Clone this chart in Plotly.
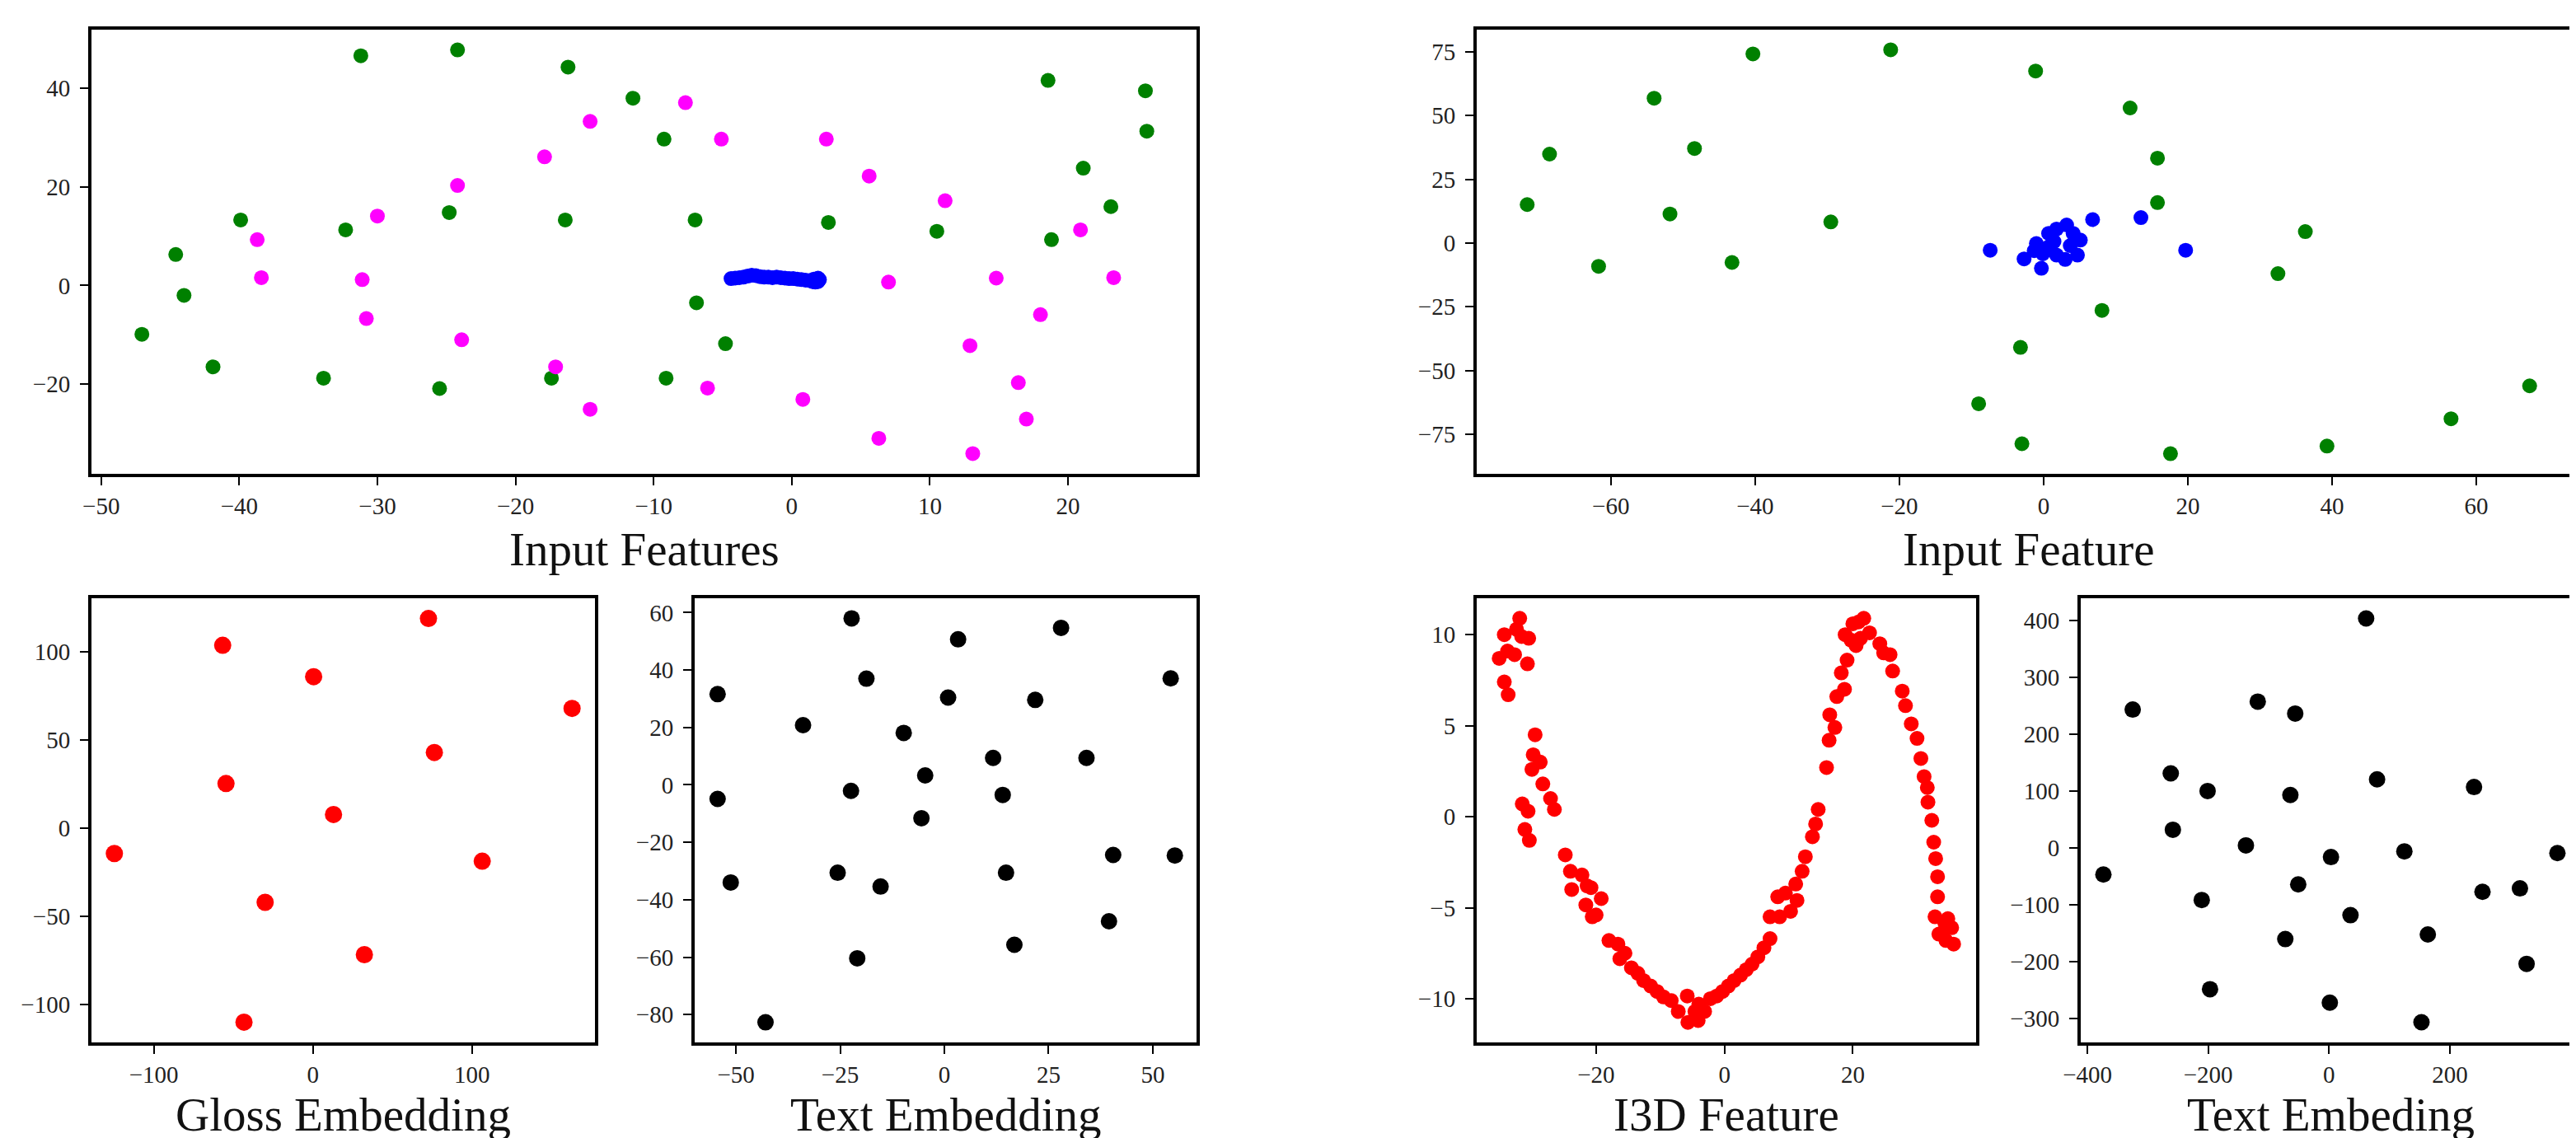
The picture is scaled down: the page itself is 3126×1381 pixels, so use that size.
import plotly.graph_objects as go

W, H = 3126, 1381

# ---------------- data ----------------
# Top-left: Input Features
tl_green_x = [-31.2, -24.2, -16.2, -11.5, -9.25, 18.55, 25.6, 25.7, 21.1, 23.1, 10.5, 18.8, 2.65, -7.0,
              -16.4, -24.8, -32.3, -39.9, -44.6, -44.0, -47.05, -41.9, -33.9, -25.5, -17.4, -9.1, -6.9, -4.8]
tl_green_y = [46.6, 47.8, 44.3, 38.0, 29.7, 41.6, 39.5, 31.3, 23.8, 16.0, 11.0, 9.3, 12.8, 13.3,
              13.3, 14.8, 11.3, 13.3, 6.3, -2.0, -9.9, -16.5, -18.8, -20.9, -18.8, -18.8, -3.5, -11.8]
tl_mag_x = [-7.7, -14.6, -5.1, 2.5, -17.9, 5.6, -24.2, 11.1, -30.0, 20.9, -38.7, -38.4, -31.1, 7.0,
            14.8, 23.3, -30.8, 18.0, -23.9, 12.9, -17.1, 16.4, -6.1, 0.8, -14.6, 16.98, 6.3, 13.1]
tl_mag_y = [37.1, 33.3, 29.7, 29.7, 26.1, 22.2, 20.3, 17.2, 14.1, 11.3, 9.3, 1.6, 1.2, 0.7,
            1.5, 1.6, -6.7, -5.9, -11.0, -12.2, -16.5, -19.7, -20.8, -23.1, -25.1, -27.1, -31.0, -34.1]
tl_blue_x = [-4.4, -4.1, -3.8, -3.5, -3.2, -2.9, -2.6, -2.3, -2.0, -1.7, -1.4, -1.1, -0.8, -0.5, -0.2,
             0.1, 0.4, 0.7, 1.0, 1.3, 1.5, 1.7, 1.9, 2.0, 1.9, 1.6]
tl_blue_y = [1.4, 1.5, 1.6, 1.7, 1.9, 2.1, 2.0, 1.8, 1.7, 1.7, 1.6, 1.7, 1.6, 1.5, 1.4,
             1.4, 1.3, 1.2, 1.1, 1.0, 0.8, 0.7, 0.8, 1.2, 1.5, 1.3]

# Top-right: Input Feature
tr_green_x = [-40.3, -21.2, -1.1, -54.0, 12.0, -68.5, -48.4, 15.8, -71.6, -51.8, -29.5, 15.8, 36.3, -61.7,
              -43.2, 32.5, 8.1, -3.2, -9.0, -3.0, 17.6, 39.3, 56.5, 67.4]
tr_green_y = [74.2, 75.8, 67.5, 56.8, 53.0, 34.9, 37.1, 33.3, 15.1, 11.4, 8.3, 15.9, 4.5, -9.1,
              -7.6, -12.0, -26.4, -40.9, -63.0, -78.7, -82.6, -79.6, -68.9, -56.0]
tr_blue_x = [-7.4, 6.8, 13.5, 19.7, -2.7, -0.3, -1.0, -0.1, 0.7, 1.8, 3.2, 1.45, 1.8, 3.0, 4.7, 5.1, 4.1,
             3.7, 0.7, -1.3]
tr_blue_y = [-2.8, 9.2, 10.0, -2.8, -6.2, -9.9, -0.2, -4.2, 3.8, 5.5, 7.1, 0.6, -4.7, -6.4, -4.7, 1.2, 3.8,
             -1.0, -1.5, -3.0]

# Bottom-left: Gloss Embedding
gloss_x = [-56.7, 72.7, 0.5, 163.0, 76.4, -54.6, 13.0, -124.8, 106.5, -30.0, 32.4, -43.3]
gloss_y = [103.8, 119.0, 86.0, 68.0, 43.0, 25.4, 7.8, -14.3, -18.7, -42.0, -71.7, -110.0]

# Bottom: Text Embedding
text_x = [-22.25, 28.0, 3.3, -18.7, -54.4, 0.9, 21.8, -33.9, -9.75, 11.7, 34.1, -4.6, -22.4, 14.0,
          -54.4, -5.5, 40.5, 55.3, 54.3, -25.6, 14.8, -15.3, -51.25, 39.5, 16.8, -20.9, -42.9]
text_y = [58.0, 54.7, 50.7, 37.0, 31.6, 30.4, 29.6, 20.8, 18.1, 9.4, 9.4, 3.3, -2.1, -3.5,
          -4.9, -11.6, -24.4, -24.6, 37.1, -30.6, -30.6, -35.4, -34.0, -47.5, -55.7, -60.4, -82.7]

# Bottom: I3D Feature
i3d_x = [-35.1, -34.3, -33.8, -34.3, -33.7, -32.7, -32.4, -31.9, -31.6, -30.5, -30.7, -29.5, -29.8, -28.7,
         -30.0, -31.5, -30.6, -31.1, -30.4, -28.3, -27.1, -26.5, -24.8, -24.0, -23.8, -22.2, -21.4, -20.8,
         -21.6, -19.2, -20.6, -20.0, -18.0, -16.6, -16.3, -15.5, -14.5, -13.5, -12.6, -11.5, -10.5, -9.5,
         -8.3, -7.2, -5.8, -5.7, -4.6, -4.1, -4.0, -3.1, -2.2, -1.2, -0.3, 0.6, 1.5, 2.5, 3.4, 4.3, 5.2,
         6.15, 7.1, 7.1, 8.3, 8.6, 9.5, 10.3, 11.3, 11.1, 12.1, 12.6, 13.7, 14.2, 14.6, 15.9, 16.3, 16.4,
         17.2, 17.5, 18.7, 18.2, 19.1, 18.8, 19.7, 20.0, 20.5, 20.9, 21.7, 21.2, 22.6, 24.2, 24.8, 25.8,
         26.2, 27.7, 28.2, 29.1, 30.0, 30.6, 31.1, 31.6, 31.7, 32.3, 32.6, 32.9, 33.2, 33.2, 32.8, 33.4,
         34.3, 34.8, 35.4, 34.5, 35.7, 33.8]
i3d_y = [8.7, 10.0, 9.1, 7.4, 6.7, 8.9, 10.3, 10.9, 9.9, 9.8, 8.4, 4.5, 3.4, 3.0,
         2.6, 0.7, 0.3, -0.7, -1.3, 1.8, 1.0, 0.4, -2.1, -3.0, -4.0, -3.2, -3.8, -3.9,
         -4.85, -4.5, -5.5, -5.4, -6.8, -7.0, -7.8, -7.5, -8.3, -8.6, -9.0, -9.3, -9.6, -9.9,
         -10.1, -10.7, -9.85, -11.3, -10.7, -11.2, -10.3, -10.7, -10.0, -9.85, -9.6, -9.3, -9.0, -8.7, -8.4, -8.1, -7.7,
         -7.2, -6.7, -5.5, -4.4, -5.5, -4.2, -5.2, -4.6, -3.7, -3.0, -2.2, -1.1, -0.4, 0.4, 2.7, 4.2, 5.6,
         4.9, 6.6, 7.0, 7.9, 8.6, 10.0, 9.7, 10.6, 9.4, 10.7, 10.9, 9.8, 10.1, 9.5, 9.0, 8.9,
         8.0, 6.9, 6.1, 5.1, 4.3, 3.2, 2.2, 1.6, 0.8, -0.2, -1.4, -2.3, -3.3, -4.4, -5.5, -6.45,
         -5.8, -5.6, -6.1, -6.8, -7.0, -6.4]

# Bottom-right: Text Embeding
te_x = [61.4, -325, -118, -56, -262, -201, -64, 79.5, 240, -258.5, -137.6, 3.2, 124.7, 378, -373.5, -51,
        254, 316, -210.7, 35.5, -72.4, 163.5, 327, -197, 1.3, 153]
te_y = [403, 243, 257, 236, 131, 100, 93, 120.5, 107, 32, 4.5, -16, -6, -9, -46.7, -64,
        -77, -71, -91.4, -118, -160, -152, -203.5, -248, -271.6, -306]

# axis ticks
tl_xticks = [-50, -40, -30, -20, -10, 0, 10, 20]
tl_yticks = [-20, 0, 20, 40]
tr_xticks = [-60, -40, -20, 0, 20, 40, 60]
tr_yticks = [-75, -50, -25, 0, 25, 50, 75]
gloss_xticks = [-100, 0, 100]
gloss_yticks = [-100, -50, 0, 50, 100]
text_xticks = [-50, -25, 0, 25, 50]
text_yticks = [-80, -60, -40, -20, 0, 20, 40, 60]
i3d_xticks = [-20, 0, 20]
i3d_yticks = [-10, -5, 0, 5, 10]
te_xticks = [-400, -200, 0, 200, 400]
te_yticks = [-300, -200, -100, 0, 100, 200, 300, 400]

labels = ["Input Features", "Input Feature", "Gloss Embedding", "Text Embedding", "I3D Feature", "Text Embeding"]

# ---------------- layout helpers ----------------
FONT = "Liberation Serif, Times New Roman, serif"


def px_x(p):
    return p / W


def px_y(p):
    return 1 - p / H


# panels: (left, right, top, bottom) in pixels
panels = [
    (103, 1444, 28, 567),
    (1784, 3123, 28, 567),
    (103, 714, 718, 1257),
    (835, 1444, 718, 1257),
    (1784, 2390, 718, 1257),
    (2517, 3123, 718, 1257),
]
ranges = [
    ([-50.7, 29.3], [-38.2, 51.9]),
    ([-78.6, 74.4], [-90.5, 83.7]),
    ([-139.2, 177.4], [-121.5, 130.5]),
    ([-59.9, 60.5], [-89.7, 65.0]),
    ([-38.6, 39.2], [-12.4, 12.0]),
    ([-411.0, 415.6], [-341.5, 438.5]),
]
ticks = [
    (tl_xticks, tl_yticks),
    (tr_xticks, tr_yticks),
    (gloss_xticks, gloss_yticks),
    (text_xticks, text_yticks),
    (i3d_xticks, i3d_yticks),
    (te_xticks, te_yticks),
]

fig = go.Figure()

series = [
    (1, tl_green_x, tl_green_y, "#008000", 18),
    (1, tl_mag_x, tl_mag_y, "#FF00FF", 18),
    (1, tl_blue_x, tl_blue_y, "#0000FF", 18),
    (2, tr_green_x, tr_green_y, "#008000", 18),
    (2, tr_blue_x, tr_blue_y, "#0000FF", 18),
    (3, gloss_x, gloss_y, "#FF0000", 21),
    (4, text_x, text_y, "#000000", 20),
    (5, i3d_x, i3d_y, "#FF0000", 18),
    (6, te_x, te_y, "#000000", 20),
]
for idx, xs, ys, col, sz in series:
    sfx = "" if idx == 1 else str(idx)
    fig.add_trace(go.Scatter(
        x=xs, y=ys, mode="markers",
        marker=dict(color=col, size=sz, line=dict(width=0)),
        xaxis="x" + sfx, yaxis="y" + sfx, showlegend=False,
        hoverinfo="skip",
    ))

layout = {}
for i, ((l, r, t, b), (xr, yr), (xt, yt)) in enumerate(zip(panels, ranges, ticks)):
    n = i + 1
    sfx = "" if n == 1 else str(n)
    common = dict(
        showline=True, linecolor="black", linewidth=4, mirror=True,
        showgrid=False, zeroline=False, automargin=False,
        ticks="outside", ticklen=10, tickwidth=2, tickcolor="black",
        tickfont=dict(family=FONT, size=29, color="#222222"),
        fixedrange=True,
    )
    layout["xaxis" + sfx] = dict(common, domain=[px_x(l), px_x(r)], range=xr, tickvals=xt,
                                 anchor="y" + sfx)
    layout["yaxis" + sfx] = dict(common, domain=[px_y(b), px_y(t)], range=yr, tickvals=yt,
                                 anchor="x" + sfx, ticklabelstandoff=6)

annotations = []
label_y = [658, 658, 1344, 1344, 1344, 1344]
for (l, r, t, b), txt, ly in zip(panels, labels, label_y):
    annotations.append(dict(
        x=px_x((l + r) / 2), y=px_y(ly), xref="paper", yref="paper",
        text=txt, showarrow=False, xanchor="center", yanchor="middle",
        font=dict(family=FONT, size=57, color="#111111"), borderpad=0,
    ))

fig.update_layout(
    width=W, height=H,
    margin=dict(l=0, r=0, t=0, b=0),
    paper_bgcolor="white", plot_bgcolor="white",
    annotations=annotations,
    **layout,
)

fig.write_html("out.html")
